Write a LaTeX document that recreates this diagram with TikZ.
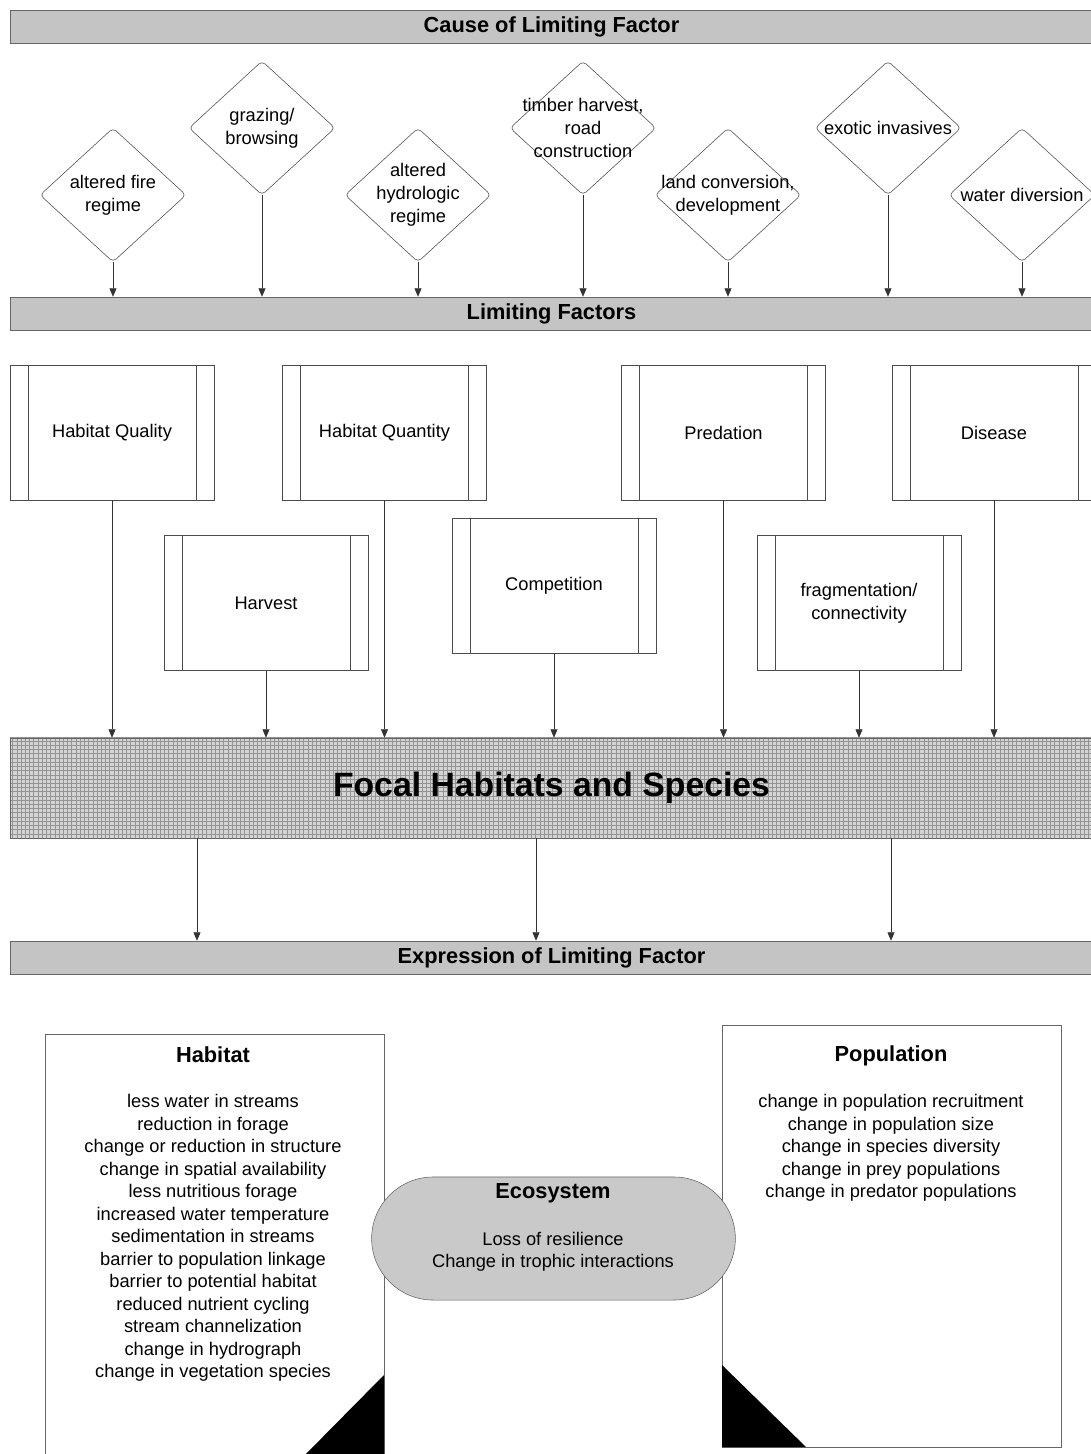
\documentclass[tikz,border=0pt]{standalone}
\usepackage{fontspec}
\setmainfont{Liberation Sans}
\usetikzlibrary{shapes.geometric,shapes.misc,arrows.meta,patterns,positioning}

\tikzset{
  bar/.style={draw=black!60, fill=black!23, minimum width=27.075cm, minimum height=0.825cm,
    inner sep=0pt, font=\fontsize{15.5}{18}\selectfont\bfseries},
  focalbar/.style={draw=black!60, preaction={fill=black!17}, pattern=grid, pattern color=black!42,
    minimum width=27.075cm, minimum height=2.5cm, inner sep=0pt, font=\fontsize{24}{28}\selectfont\bfseries},
  cause/.style={diamond, draw=black!70, minimum width=3.65cm, minimum height=3.35cm,
    inner sep=0pt, rounded corners=3pt},
  causetext/.style={align=center, inner sep=0pt, font=\fontsize{13}{16.3}\selectfont},
  factor/.style={draw=black!70, minimum width=5.1cm, minimum height=3.375cm, align=center,
    font=\fontsize{13}{16.3}\selectfont,
    path picture={\draw[black!70]
      ([xshift=0.45cm]path picture bounding box.north west) -- ([xshift=0.45cm]path picture bounding box.south west)
      ([xshift=-0.45cm]path picture bounding box.north east) -- ([xshift=-0.45cm]path picture bounding box.south east);}},
  exprbox/.style={draw=black!60, minimum width=8.475cm},
  exprhead/.style={font=\fontsize{15.5}{18}\selectfont\bfseries},
  exprlist/.style={align=center, font=\fontsize{13}{16}\selectfont},
  arr/.style={draw=black!80, -{Triangle[length=6pt,width=5pt]}},
}

\begin{document}
\begin{tikzpicture}[x=0.025cm,y=-0.025cm]
  \useasboundingbox (0,0) rectangle (1091,1454);
  \clip (0,0) rectangle (1091,1454);

  % bands
  \node[bar] (cause) at (551.5,26.5) {Cause of Limiting Factor};
  \node[bar] (limits) at (551.5,313.5) {Limiting Factors};
  \node[focalbar] (focal) at (551.5,788) {Focal Habitats and Species};
  \node[bar] (expr) at (551.5,957.5) {Expression of Limiting Factor};

  % causes
  \node[cause, label={[causetext]center:{altered fire\\regime}}] (fire) at (113,195) {};
  \node[cause, label={[causetext]center:{grazing/\\browsing}}] (graze) at (262,128) {};
  \node[cause, label={[causetext]center:{altered\\hydrologic\\regime}}] (hydro) at (418,195) {};
  \node[cause, label={[causetext]center:{timber harvest,\\road\\construction}}] (timber) at (583,128) {};
  \node[cause, label={[causetext]center:{land conversion,\\development}}] (land) at (728,195) {};
  \node[cause, label={[causetext]center:{exotic invasives}}] (exotic) at (888,128) {};
  \node[cause, label={[causetext]center:{water diversion}}] (water) at (1022,195) {};

  \foreach \d in {fire,graze,hydro,timber,land,exotic,water}
    \draw[arr] (\d.south) -- (\d.south |- limits.north);

  % limiting factors
  \node[factor] (hq) at (112,432.5) {Habitat Quality};
  \node[factor] (hqn) at (384.5,432.5) {Habitat Quantity};
  \node[factor] (pred) at (723.5,432.5) {Predation};
  \node[factor] (dis) at (994,432.5) {Disease};
  \node[factor] (harv) at (266,603) {Harvest};
  \node[factor] (comp) at (554,586) {Competition};
  \node[factor] (frag) at (859,603) {fragmentation/\\connectivity};

  \foreach \f in {hq,harv,hqn,comp,pred,frag,dis}
    \draw[arr] (\f.south) -- (\f.south |- focal.north);

  \foreach \x in {197,536,891}
    \draw[arr] (focal.south -| \x,0) -- (expr.north -| \x,0);

  % expressions
  \node[exprbox, minimum height=10.9cm] (habitat) at (214.5,1252) {};
  \fill (384,1375) -- (384,1460) -- (300,1460) -- cycle;
  \node[exprhead] (habT) at (213,1055) {Habitat};
  \node[exprlist] (habL) at (213,1238) {less water in streams\\reduction in forage\\change or reduction in structure\\
    change in spatial availability\\less nutritious forage\\increased water temperature\\sedimentation in streams\\
    barrier to population linkage\\barrier to potential habitat\\reduced nutrient cycling\\stream channelization\\
    change in hydrograph\\change in vegetation species};

  \node[exprbox, minimum height=10.55cm] (popul) at (891.5,1236) {};
  \fill (722,1365) -- (722,1447) -- (806,1447) -- cycle;
  \node[exprhead] (popT) at (891,1056) {Population};
  \node[exprlist] (popL) at (891,1148) {change in population recruitment\\change in population size\\
    change in species diversity\\change in prey populations\\change in predator populations};

  \node[rounded rectangle, draw=black!60, fill=black!21, minimum width=9.325cm, minimum height=3.075cm] (eco) at (553.5,1238.5) {};
  \node[exprhead] (ecoT) at (553,1193) {Ecosystem};
  \node[exprlist] (ecoL) at (553,1252) {Loss of resilience\\Change in trophic interactions};
\end{tikzpicture}
\end{document}
